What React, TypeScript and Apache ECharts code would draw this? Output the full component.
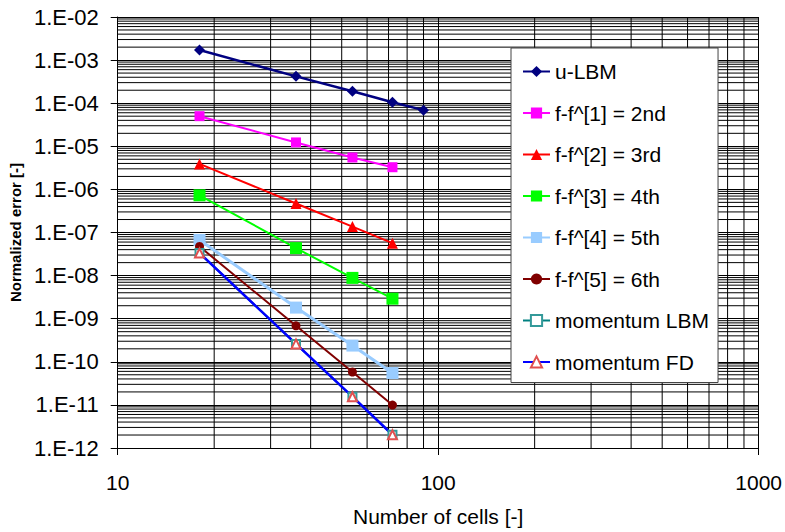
import React, { useEffect, useRef } from "react";
import * as echarts from "echarts";

const cells = [18, 36, 54, 72, 90];

const uLBM = [1.71e-3, 4.2e-4, 1.9e-4, 1.05e-4, 6.9e-5];
const f1 = [5.0e-5, 1.23e-5, 5.5e-6, 3.27e-6];
const f2 = [3.9e-6, 4.7e-7, 1.37e-7, 5.65e-8];
const f3 = [7.3e-7, 4.34e-8, 8.85e-9, 2.91e-9];
const f4 = [6.7e-8, 1.81e-9, 2.38e-10, 5.5e-11];
const f5 = [4.73e-8, 6.85e-10, 5.8e-11, 9.9e-12];
const momLBM = [3.33e-8, 2.6e-10, 1.55e-11, 2.03e-12];
const momFD = [3.33e-8, 2.6e-10, 1.55e-11, 2.03e-12];

const seriesNames = [
  "u-LBM",
  "f-f^[1] = 2nd",
  "f-f^[2] = 3rd",
  "f-f^[3] = 4th",
  "f-f^[4] = 5th",
  "f-f^[5] = 6th",
  "momentum LBM",
  "momentum FD",
];

const X_MIN = 10;
const X_MAX = 1000;
const Y_MIN = 1e-12;
const Y_MAX = 1e-2;

const mantissas = [2, 3, 4, 5, 6, 7, 8, 9];
const xDecades = [10, 100];
const yDecades = [1e-12, 1e-11, 1e-10, 1e-9, 1e-8, 1e-7, 1e-6, 1e-5, 1e-4, 1e-3];

const FONT = "'Liberation Sans', Arial, sans-serif";

function pairs(vals: number[]) {
  return vals.map((v, i) => [cells[i], v]);
}

export default function App() {
  const ref = useRef<HTMLDivElement>(null);
  useEffect(() => {
    const chart = echarts.init(ref.current!, null, { renderer: "svg" });
    const xMinor: number[] = [];
    xDecades.forEach((d) => mantissas.forEach((m) => xMinor.push(m * d)));
    const yMinor: number[] = [];
    yDecades.forEach((d) => mantissas.forEach((m) => yMinor.push(m * d)));

    const mk = (
      name: string,
      vals: number[],
      color: string,
      symbol: string,
      size: number,
      width: number,
      extra: any = {}
    ) => ({
      type: "line",
      name,
      data: pairs(vals),
      symbol,
      symbolSize: size,
      showSymbol: true,
      z: 3,
      lineStyle: { color, width },
      itemStyle: { color, borderWidth: 0 },
      emphasis: { disabled: true },
      ...extra,
    });

    const option: any = {
      animation: false,
      backgroundColor: "#fff",
      textStyle: { fontFamily: FONT },
      grid: { left: 116, top: 17, width: 646, height: 434, containLabel: false },
      legend: {
        data: seriesNames,
        orient: "vertical",
        left: 511,
        top: 48,
        padding: [13, 9, 10, 11],
        itemGap: 20.5,
        itemWidth: 27,
        itemHeight: 14,
        backgroundColor: "#fff",
        borderColor: "#444",
        borderWidth: 1,
        selectedMode: false,
        textStyle: { fontSize: 21, color: "#000", fontFamily: FONT, lineHeight: 21 },
      },
      xAxis: {
        type: "log",
        logBase: 10,
        min: X_MIN,
        max: X_MAX,
        interval: 1,
        name: "Number of cells [-]",
        nameLocation: "middle",
        nameGap: 58,
        nameTextStyle: { fontSize: 21, color: "#000", fontFamily: FONT },
        axisLine: { show: true, lineStyle: { color: "#000", width: 1 } },
        axisTick: { show: true, length: 7, lineStyle: { color: "#000" } },
        axisLabel: {
          fontSize: 21,
          color: "#000",
          margin: 24,
          fontFamily: FONT,
          formatter: (v: number) => String(Math.round(v)),
        },
        splitLine: { show: true, lineStyle: { color: "#000", width: 1 } },
      },
      yAxis: {
        type: "log",
        logBase: 10,
        min: Y_MIN,
        max: Y_MAX,
        interval: 1,
        name: "Normalized error [-]",
        nameLocation: "middle",
        nameGap: 94,
        nameTextStyle: { fontSize: 15, fontWeight: "bold", color: "#000", fontFamily: FONT },
        axisLine: { show: true, lineStyle: { color: "#000", width: 1 } },
        axisTick: { show: true, length: 7, lineStyle: { color: "#000" } },
        axisLabel: {
          fontSize: 22,
          color: "#000",
          margin: 19,
          fontFamily: FONT,
          formatter: (v: number) => {
            const e = Math.round(Math.log10(v));
            const a = Math.abs(e);
            return "1.E" + (e < 0 ? "-" : "+") + (a < 10 ? "0" + a : "" + a);
          },
        },
        splitLine: { show: true, lineStyle: { color: "#000", width: 1 } },
      },
      series: [
        {
          type: "custom",
          name: "xgrid",
          silent: true,
          z: 1,
          data: xMinor.map((v) => [v, 1e-7]),
          renderItem: (_p: any, api: any) => {
            const x = api.value(0);
            const a = api.coord([x, Y_MIN]);
            const b = api.coord([x, Y_MAX]);
            return {
              type: "line",
              shape: { x1: a[0], y1: a[1], x2: b[0], y2: b[1] },
              style: { stroke: "#000", lineWidth: 1 },
            };
          },
        },
        {
          type: "custom",
          name: "ygrid",
          silent: true,
          z: 1,
          data: yMinor.map((v) => [100, v]),
          renderItem: (_p: any, api: any) => {
            const y = api.value(1);
            const a = api.coord([X_MIN, y]);
            const b = api.coord([X_MAX, y]);
            return {
              type: "line",
              shape: { x1: a[0], y1: a[1], x2: b[0], y2: b[1] },
              style: { stroke: "#000", lineWidth: 1 },
            };
          },
        },
        mk(seriesNames[0], uLBM, "#000080", "diamond", 11, 2.5),
        mk(seriesNames[1], f1, "#FF00FF", "rect", 10, 2),
        mk(seriesNames[2], f2, "#FF0000", "triangle", 11, 2),
        mk(seriesNames[3], f3, "#00FF00", "rect", 12, 2),
        mk(seriesNames[4], f4, "#99CCFF", "rect", 12, 3),
        mk(seriesNames[5], f5, "#800000", "circle", 9, 2),
        mk(seriesNames[6], momLBM, "#008080", "emptyRect", 8, 2, {
          itemStyle: { color: "#339999", borderWidth: 1 },
        }),
        mk(seriesNames[7], momFD, "#0000FF", "emptyTriangle", 9, 2.5, {
          itemStyle: { color: "#E05050", borderWidth: 1 },
        }),
      ],
    };
    chart.setOption(option);
    return () => chart.dispose();
  }, []);
  return (
    <div
      ref={ref}
      style={{ position: "fixed", left: 0, top: 0, width: 785, height: 532, background: "#fff" }}
    />
  );
}
